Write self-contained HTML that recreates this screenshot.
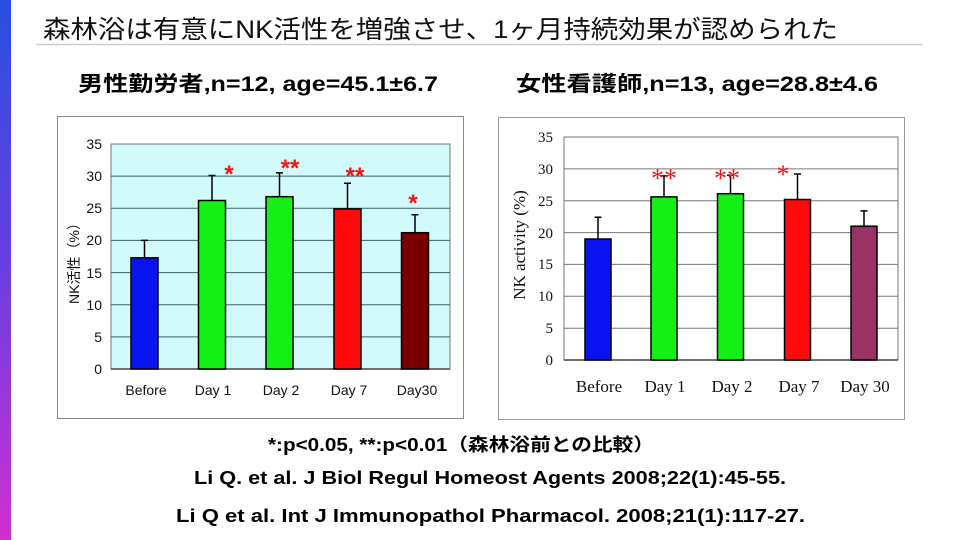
<!DOCTYPE html>
<html><head><meta charset="utf-8"><style>
html,body{margin:0;padding:0;background:#fff;}
svg{display:block;}
</style></head><body>
<svg width="960" height="540" viewBox="0 0 960 540" xmlns="http://www.w3.org/2000/svg">
<defs>
<linearGradient id="sb" x1="0" y1="0" x2="0" y2="1">
<stop offset="0" stop-color="#2a4fe0"/><stop offset="0.5" stop-color="#6a3ee0"/><stop offset="1" stop-color="#d030d0"/>
</linearGradient>
</defs>
<rect x="0" y="0" width="11" height="540" fill="url(#sb)"/>
<text x="43" y="38" font-family="'Liberation Sans','Noto Sans CJK JP',sans-serif" font-size="25" fill="#111" textLength="795" lengthAdjust="spacingAndGlyphs">森林浴は有意にNK活性を増強させ、1ヶ月持続効果が認められた</text>
<line x1="36" y1="44.5" x2="923" y2="44.5" stroke="#ccc" stroke-width="1.5"/>
<text x="78" y="91" font-family="'Liberation Sans','Noto Sans CJK JP',sans-serif" font-size="21" font-weight="bold" fill="#000" textLength="360" lengthAdjust="spacingAndGlyphs">男性勤労者,n=12, age=45.1±6.7</text>
<text x="516" y="91" font-family="'Liberation Sans','Noto Sans CJK JP',sans-serif" font-size="21" font-weight="bold" fill="#000" textLength="362" lengthAdjust="spacingAndGlyphs">女性看護師,n=13, age=28.8±4.6</text>

<!-- Left chart -->
<rect x="57.5" y="116.5" width="406" height="302" fill="#fff" stroke="#888" stroke-width="1"/>
<rect x="111" y="144" width="339" height="225" fill="#d2fafa" stroke="#777" stroke-width="1"/>
<g stroke="#3a5f6a" stroke-width="1">
<line x1="111" y1="336.9" x2="450" y2="336.9"/><line x1="111" y1="304.7" x2="450" y2="304.7"/>
<line x1="111" y1="272.6" x2="450" y2="272.6"/><line x1="111" y1="240.4" x2="450" y2="240.4"/>
<line x1="111" y1="208.3" x2="450" y2="208.3"/><line x1="111" y1="176.1" x2="450" y2="176.1"/>
</g>
<line x1="111" y1="369" x2="450" y2="369" stroke="#444" stroke-width="1.5"/>
<g stroke="#000" stroke-width="1.5">
<rect x="131" y="257.8" width="27" height="111.2" fill="#0a14f0"/>
<rect x="198.5" y="200.5" width="27" height="168.5" fill="#14f014"/>
<rect x="266" y="196.7" width="27" height="172.3" fill="#14f014"/>
<rect x="334" y="208.9" width="27" height="160.1" fill="#ff0a0a"/>
<rect x="401.5" y="232.7" width="27" height="136.3" fill="#7a0000"/>
<path d="M144.5 257.8V240.4M141 240.4h7M212 200.5V175.5M208.5 175.5h7M279.5 196.7V172.9M276 172.9h7M347.5 208.9V183.2M344 183.2h7M415 232.7V214.7M411.5 214.7h7" fill="none"/>
</g>
<g font-family="'Liberation Sans',sans-serif" font-size="14" fill="#111" text-anchor="end">
<text x="102" y="374">0</text><text x="102" y="342">5</text><text x="102" y="310">10</text><text x="102" y="278">15</text>
<text x="102" y="245">20</text><text x="102" y="213">25</text><text x="102" y="181">30</text><text x="102" y="149">35</text>
</g>
<g font-family="'Liberation Sans',sans-serif" font-size="14" fill="#111" text-anchor="middle">
<text x="146" y="395">Before</text><text x="213" y="395">Day 1</text><text x="281" y="395">Day 2</text><text x="349" y="395">Day 7</text><text x="417" y="395">Day30</text>
</g>
<text transform="translate(79,260) rotate(-90)" font-family="'Liberation Sans','Noto Sans CJK JP',sans-serif" font-size="14" fill="#111" text-anchor="middle">NK活性（%）</text>
<g font-family="'Liberation Sans',sans-serif" font-size="24" font-weight="bold" fill="#ff1010" text-anchor="middle">
<text x="229" y="182">*</text><text x="290" y="176">**</text><text x="355" y="184">**</text><text x="413" y="211">*</text>
</g>

<!-- Right chart -->
<rect x="498.5" y="117.5" width="406" height="302" fill="#fff" stroke="#999" stroke-width="1"/>
<rect x="564" y="137" width="334" height="223" fill="#fff" stroke="#777" stroke-width="1"/>
<g stroke="#777" stroke-width="1">
<line x1="564" y1="328.2" x2="898" y2="328.2"/><line x1="564" y1="296.3" x2="898" y2="296.3"/>
<line x1="564" y1="264.4" x2="898" y2="264.4"/><line x1="564" y1="232.6" x2="898" y2="232.6"/>
<line x1="564" y1="200.8" x2="898" y2="200.8"/><line x1="564" y1="168.9" x2="898" y2="168.9"/>
</g>
<line x1="564" y1="360" x2="898" y2="360" stroke="#444" stroke-width="1.5"/>
<g stroke="#000" stroke-width="1.5">
<rect x="585" y="239" width="26" height="121" fill="#0a14f0"/>
<rect x="651" y="196.9" width="26" height="163.1" fill="#14f014"/>
<rect x="717.5" y="193.7" width="26" height="166.3" fill="#14f014"/>
<rect x="784.5" y="199.5" width="26" height="160.5" fill="#ff0a0a"/>
<rect x="851" y="226.2" width="26" height="133.8" fill="#993366"/>
<path d="M598 239V217.3M594.5 217.3h7M664 196.9V175.9M660.5 175.9h7M730.5 193.7V175.3M727 175.3h7M797.5 199.5V174M794 174h7M864 226.2V210.9M860.5 210.9h7" fill="none"/>
</g>
<g font-family="'Liberation Serif',serif" font-size="15" fill="#111" text-anchor="end">
<text x="553" y="365">0</text><text x="553" y="333">5</text><text x="553" y="301">10</text><text x="553" y="269">15</text>
<text x="553" y="238">20</text><text x="553" y="206">25</text><text x="553" y="174">30</text><text x="553" y="142">35</text>
</g>
<g font-family="'Liberation Serif',serif" font-size="17" fill="#111" text-anchor="middle">
<text x="599" y="392">Before</text><text x="665" y="392">Day 1</text><text x="732" y="392">Day 2</text><text x="799" y="392">Day 7</text><text x="865" y="392">Day 30</text>
</g>
<text transform="translate(525,245) rotate(-90)" font-family="'Liberation Serif',serif" font-size="17" fill="#111" text-anchor="middle">NK activity (%)</text>
<g font-family="'Liberation Serif',serif" font-size="26" fill="#ff1010" text-anchor="middle">
<text x="664" y="187">**</text><text x="727" y="187">**</text><text x="783" y="183">*</text>
</g>

<!-- Footer -->
<g font-family="'Liberation Sans','Noto Sans CJK JP',sans-serif" font-weight="bold" fill="#000">
<text x="268" y="451" font-size="18" textLength="386" lengthAdjust="spacingAndGlyphs">*:p&lt;0.05, **:p&lt;0.01（森林浴前との比較）</text>
<text x="194" y="484" font-size="18" textLength="592" lengthAdjust="spacingAndGlyphs">Li Q. et al. J Biol Regul Homeost Agents 2008;22(1):45-55.</text>
<text x="176" y="522" font-size="18" textLength="629" lengthAdjust="spacingAndGlyphs">Li Q et al. Int J Immunopathol Pharmacol. 2008;21(1):117-27.</text>
</g>
</svg>
</body></html>
